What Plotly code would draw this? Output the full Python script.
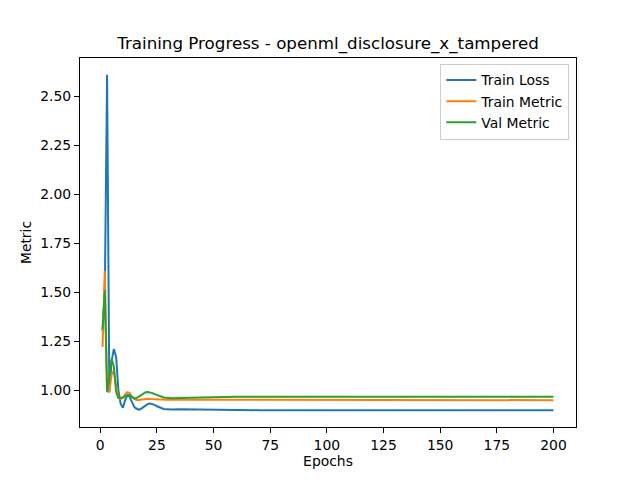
import plotly.graph_objects as go

# Epochs at which values were read (dense at start, sparse on the flat tail)
epochs = [1, 2, 3, 4, 5, 6, 7, 8, 9, 10, 11, 12, 13, 14, 15, 16, 17, 18, 19, 20,
          21, 22, 23, 24, 25, 26, 27, 28, 29, 30, 32, 35, 40, 50, 60, 70, 80, 90,
          100, 110, 120, 130, 140, 150, 160, 170, 180, 190, 200]

train_loss = [1.30, 1.50, 2.61, 0.99, 1.15, 1.21, 1.17, 1.00, 0.93, 0.91,
              0.95, 0.975, 0.965, 0.94, 0.915, 0.905, 0.900, 0.905, 0.915, 0.925,
              0.930, 0.932, 0.930, 0.925, 0.918, 0.912, 0.907, 0.904, 0.902, 0.901,
              0.901, 0.902, 0.901, 0.899, 0.899, 0.898, 0.898, 0.898, 0.899,
              0.898, 0.898, 0.898, 0.898, 0.898, 0.898, 0.898, 0.898, 0.898, 0.898]

train_metric = [1.22, 1.61, 1.00, 0.99, 1.08, 1.10, 1.02, 0.96, 0.955, 0.96,
                0.98, 0.99, 0.985, 0.965, 0.955, 0.950, 0.950, 0.952, 0.955, 0.956,
                0.956, 0.955, 0.954, 0.953, 0.953, 0.952, 0.952, 0.951, 0.951, 0.951,
                0.951, 0.950, 0.950, 0.950, 0.950, 0.950, 0.950, 0.949, 0.949,
                0.949, 0.949, 0.949, 0.949, 0.949, 0.949, 0.949, 0.949, 0.949, 0.949]

val_metric = [1.31, 1.51, 0.99, 1.08, 1.16, 1.12, 0.99, 0.96, 0.96, 0.962,
              0.97, 0.975, 0.975, 0.965, 0.958, 0.960, 0.968, 0.978, 0.986, 0.990,
              0.991, 0.989, 0.985, 0.980, 0.975, 0.970, 0.966, 0.963, 0.961, 0.960,
              0.959, 0.960, 0.962, 0.966, 0.967, 0.967, 0.967, 0.966, 0.966,
              0.966, 0.966, 0.966, 0.966, 0.966, 0.966, 0.966, 0.966, 0.966, 0.966]

x_ticks = [0, 25, 50, 75, 100, 125, 150, 175, 200]
y_ticks = [1.00, 1.25, 1.50, 1.75, 2.00, 2.25, 2.50]

series = [("Train Loss", train_loss, "#1f77b4"),
          ("Train Metric", train_metric, "#ff7f0e"),
          ("Val Metric", val_metric, "#2ca02c")]

fig = go.Figure()
for name, vals, color in series:
    fig.add_trace(go.Scatter(x=epochs, y=vals, mode="lines", name=name,
                             line=dict(color=color, width=2)))

FONT = "DejaVu Sans"
FS = 13.9
fig.update_layout(
    width=640, height=480,
    margin=dict(l=80, r=64, t=57.6, b=52.8, autoexpand=False),
    paper_bgcolor="white", plot_bgcolor="white",
    font=dict(family=FONT, size=FS, color="black"),
    title=dict(text="Training Progress - openml_disclosure_x_tampered",
               x=0.5, xref="paper", xanchor="center",
               y=1 - 43 / 480, yref="container", yanchor="middle",
               font=dict(family=FONT, size=16.7, color="black")),
    legend=dict(x=0.9865, y=0.985, xanchor="right", yanchor="top",
                bgcolor="rgba(255,255,255,0.8)", bordercolor="#cccccc", borderwidth=1,
                font=dict(family=FONT, size=FS, color="black"),
                tracegroupgap=0, itemwidth=30),
    showlegend=True,
)
fig.update_xaxes(range=[-8.95, 209.95], tickvals=x_ticks, ticks="outside", ticklen=5,
                 tickwidth=1, tickcolor="black", showline=True, linecolor="black",
                 linewidth=1, mirror=True, showgrid=False, zeroline=False,
                 tickfont=dict(family=FONT, size=FS, color="black"),
                 title=dict(text="Epochs", standoff=4,
                            font=dict(family=FONT, size=FS, color="black")))
fig.update_yaxes(range=[0.812, 2.696], tickvals=y_ticks, tickformat=".2f",
                 ticks="outside", ticklen=5, tickwidth=1, tickcolor="black",
                 showline=True, linecolor="black", linewidth=1, mirror=True,
                 showgrid=False, zeroline=False,
                 tickfont=dict(family=FONT, size=FS, color="black"),
                 title=dict(text="Metric", standoff=5,
                            font=dict(family=FONT, size=FS, color="black")))

fig.write_html("out.html", config={"displayModeBar": False},
               post_script="document.body.style.margin='0';document.body.style.padding='0';")
